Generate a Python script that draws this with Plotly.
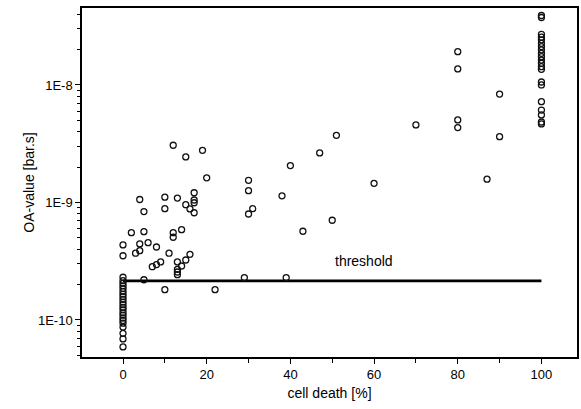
import numpy as np
import plotly.graph_objects as go

# cell death [%] and OA-value [bar.s]
cell_death = [
    0, 0, 0, 0, 0, 0, 0, 0, 0, 0, 0, 0, 0, 0, 0, 0, 0, 0, 0, 0, 0, 0, 0, 0,
    2, 3, 4, 4, 4, 5, 5, 5, 6, 7, 8, 8, 9, 10, 10, 10, 11,
    12, 12, 12, 13, 13, 13, 13, 13, 14, 14, 15, 15, 15, 16, 16,
    17, 17, 17, 17, 19, 20, 22, 29, 30, 30, 30, 31, 38, 39, 40, 43, 47, 50, 51,
    60, 70, 80, 80, 80, 80, 87, 90, 90,
    100, 100, 100, 100, 100, 100, 100, 100, 100, 100, 100, 100, 100, 100,
    100, 100, 100, 100, 100, 100, 100,
]
oa_value = [
    2.31e-10, 2.16e-10, 2.05e-10, 1.95e-10, 1.85e-10, 1.75e-10, 1.66e-10, 1.58e-10,
    1.50e-10, 1.42e-10, 1.35e-10, 1.28e-10, 1.22e-10, 1.15e-10, 1.10e-10, 1.04e-10,
    9.9e-11, 9.4e-11, 8.7e-11, 7.7e-11, 6.9e-11, 5.9e-11, 4.35e-10, 3.52e-10,
    5.53e-10, 3.70e-10, 1.06e-9, 4.44e-10, 3.89e-10, 8.36e-10, 5.64e-10, 2.20e-10,
    4.55e-10, 2.84e-10, 4.18e-10, 2.96e-10, 3.12e-10, 1.11e-9, 8.85e-10, 1.81e-10,
    3.70e-10,
    3.07e-9, 5.53e-10, 5.06e-10, 1.09e-9, 3.12e-10, 2.70e-10, 2.56e-10, 2.43e-10,
    5.87e-10, 2.88e-10, 2.44e-9, 9.57e-10, 3.24e-10, 8.81e-10, 3.62e-10,
    1.21e-9, 1.05e-9, 9.95e-10, 8.18e-10, 2.78e-9, 1.62e-9, 1.81e-10, 2.29e-10,
    1.545e-9, 1.26e-9, 7.98e-10, 8.85e-10, 1.14e-9, 2.29e-10, 2.06e-9, 5.69e-10,
    2.64e-9, 7.06e-10, 3.73e-9,
    1.455e-9, 4.57e-9, 1.92e-8, 1.37e-8, 5.04e-9, 4.34e-9, 1.58e-9, 8.37e-9, 3.63e-9,
    3.90e-8, 3.75e-8, 2.70e-8, 2.55e-8, 2.42e-8, 2.26e-8, 2.12e-8, 1.99e-8,
    1.86e-8, 1.74e-8, 1.63e-8, 1.53e-8, 1.43e-8, 1.36e-8,
    1.06e-8, 1.0e-8, 7.21e-9, 6.12e-9, 5.56e-9, 4.84e-9, 4.66e-9,
]

threshold_x = [0, 100]
threshold_y = [2.15e-10, 2.15e-10]
threshold_label = "threshold"
threshold_label_pos = (57.5, 3.15e-10)

x_ticks = [0, 20, 40, 60, 80, 100]
y_ticks = [1e-10, 1e-9, 1e-8]
y_ticktext = ["1E-10", "1E-9", "1E-8"]

FONT = "Liberation Sans, Arial, sans-serif"

fig = go.Figure()
fig.add_trace(go.Scatter(
    x=threshold_x, y=threshold_y, mode="lines",
    line=dict(color="black", width=2.8), showlegend=False, hoverinfo="skip",
))
fig.add_trace(go.Scatter(
    x=cell_death, y=oa_value, mode="markers",
    marker=dict(symbol="circle-open", size=6, color="#111111", line=dict(width=1.3)),
    showlegend=False,
))

fig.add_annotation(
    x=threshold_label_pos[0], y=np.log10(threshold_label_pos[1]),
    xref="x", yref="y", text=threshold_label, showarrow=False,
    font=dict(family=FONT, size=14, color="black"),
)

minor_y = [k * 10.0 ** e for e in range(-11, -7) for k in range(2, 10)]

fig.update_xaxes(
    range=[-9.8, 108.5], tickmode="array", tickvals=x_ticks,
    ticks="outside", ticklen=5, tickwidth=1, tickcolor="black",
    minor=dict(dtick=10, ticks="outside", ticklen=4, tickwidth=1, tickcolor="black"),
    showline=True, linecolor="black", linewidth=1.5, mirror=True,
    showgrid=False, zeroline=False,
    tickfont=dict(family=FONT, size=13, color="black"),
    title=dict(text="cell death [%]", font=dict(family=FONT, size=14, color="black"), standoff=7),
)
fig.update_yaxes(
    type="log", range=[-10.315, -7.345], tickmode="array",
    tickvals=y_ticks, ticktext=y_ticktext,
    ticks="outside", ticklen=5, tickwidth=1, tickcolor="black",
    minor=dict(tickmode="array", tickvals=minor_y, ticks="outside", ticklen=3,
               tickwidth=1, tickcolor="black"),
    showline=True, linecolor="black", linewidth=1.5, mirror=True,
    showgrid=False, zeroline=False,
    tickfont=dict(family=FONT, size=13, color="black"),
    title=dict(text="OA-value [bar.s]", font=dict(family=FONT, size=14, color="black"), standoff=0),
)

fig.update_layout(
    width=581, height=409,
    margin=dict(l=82, r=2, t=8, b=52),
    paper_bgcolor="white", plot_bgcolor="white",
)

fig.write_html("out.html")
